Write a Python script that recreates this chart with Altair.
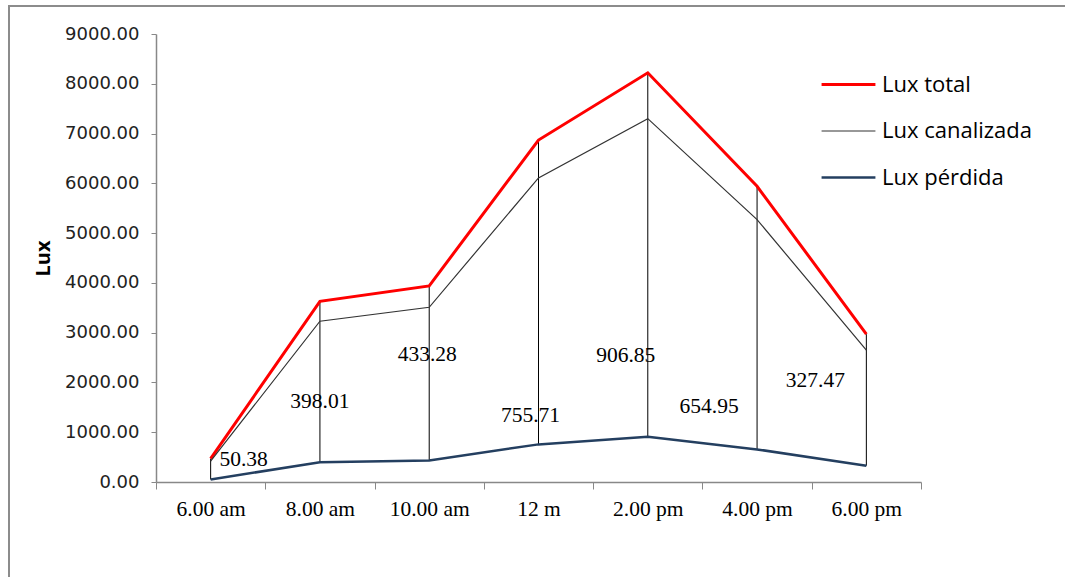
import altair as alt
import pandas as pd

# Hours of measurement
horas = ["6.00 am", "8.00 am", "10.00 am", "12 m", "2.00 pm", "4.00 pm", "6.00 pm"]

# Illuminance series (lux)
lux_total = [470, 3630, 3940, 6870, 8220, 5940, 2970]
lux_canalizada = [420, 3230, 3510, 6110, 7300, 5270, 2650]
lux_perdida = [50.38, 398.01, 433.28, 755.71, 906.85, 654.95, 327.47]

# Heights (lux) at which the loss labels sit
label_lux = [435, 1600, 2543, 1319, 2523, 1499, 2021]

series = ["Lux total", "Lux canalizada", "Lux pérdida"]
colors = ["#ff0000", "#333333", "#243f60"]
widths = [3, 1.2, 2.5]

long_rows = []
for name, vals in zip(series, [lux_total, lux_canalizada, lux_perdida]):
    for h, v in zip(horas, vals):
        long_rows.append({"hora": h, "serie": name, "lux": v})
long_df = pd.DataFrame(long_rows)

wide_df = pd.DataFrame({
    "hora": horas,
    "total": lux_total,
    "perdida": lux_perdida,
    "etiqueta": [f"{v:.2f}" for v in lux_perdida],
    "label_lux": label_lux,
})

W, H = 765, 448

x_enc = alt.X(
    "hora:N",
    sort=horas,
    bandPosition=0.5,
    scale=alt.Scale(type="band", paddingInner=0, paddingOuter=0),
    axis=alt.Axis(
        title=None,
        labelAngle=0,
        labelAlign="center",
        labelBaseline="top",
        tickBand="extent",
        labelFont="Liberation Serif",
        labelFontSize=21.5,
        labelColor="#000000",
        labelPadding=9,
        tickSize=7,
        tickColor="#888888",
        domainColor="#888888",
        domainWidth=1.5,
        grid=False,
    ),
)

y_scale = alt.Scale(domain=[0, 9000], nice=False)
y_axis = alt.Axis(
    title="Lux",
    titleFont="Open Sans",
    titleFontSize=20,
    titleFontWeight="bold",
    titleColor="#000000",
    titlePadding=11,
    values=list(range(0, 9001, 1000)),
    format=".2f",
    labelFont="DejaVu Sans",
    labelFontSize=18,
    labelColor="#222222",
    labelPadding=12,
    tickSize=5,
    tickColor="#888888",
    domainColor="#888888",
    domainWidth=1.5,
    grid=False,
)

legend = alt.Legend(
    title=None,
    orient="none",
    legendX=664,
    legendY=22,
    symbolType="stroke",
    symbolSize=2900,
    labelFont="Open Sans",
    labelFontSize=22,
    labelColor="#000000",
    labelOffset=5,
    rowPadding=7,
    padding=0,
)

lines = alt.Chart(long_df).mark_line().encode(
    x=x_enc,
    y=alt.Y("lux:Q", scale=y_scale, axis=y_axis),
    color=alt.Color(
        "serie:N",
        scale=alt.Scale(domain=series, range=colors),
        legend=legend,
    ),
    strokeWidth=alt.StrokeWidth(
        "serie:N",
        scale=alt.Scale(type="ordinal", domain=series, range=widths),
        legend=legend,
    ),
)

# High-low lines from total down to the loss value
drops = alt.Chart(wide_df).mark_rule(color="#000000", strokeWidth=1).encode(
    x=alt.X("hora:N", sort=horas, bandPosition=0.5),
    y=alt.Y("total:Q", scale=y_scale),
    y2="perdida:Q",
)

# Loss labels, each nudged sideways from its hour
label_dx = [33, 0, -2, -8, -22, -48, -51]
labels = []
for i, dx in enumerate(label_dx):
    labels.append(
        alt.Chart(wide_df.iloc[[i]]).mark_text(
            font="Liberation Serif", fontSize=21.5, color="#000000", dx=dx
        ).encode(
            x=alt.X("hora:N", sort=horas, bandPosition=0.5),
            y=alt.Y("label_lux:Q", scale=y_scale),
            text="etiqueta:N",
        )
    )

# Outer frame of the figure
frame_left = alt.Chart(wide_df.iloc[[0]]).mark_rule(color="#8c8c8c", strokeWidth=2).encode(
    x=alt.value(-147), y=alt.value(-28), y2=alt.value(H + 95)
)
frame_top = alt.Chart(wide_df.iloc[[0]]).mark_rule(color="#8c8c8c", strokeWidth=2).encode(
    x=alt.value(-148), x2=alt.value(W + 150), y=alt.value(-28)
)

chart = alt.layer(drops, lines, *labels, frame_left, frame_top).properties(
    width=W,
    height=H,
    autosize=alt.AutoSizeParams(type="none"),
    padding={"left": 156, "top": 34, "right": 144, "bottom": 95},
    background="#ffffff",
).configure_view(stroke=None)

chart.save("out.html", embed_options={"renderer": "svg", "actions": False})
